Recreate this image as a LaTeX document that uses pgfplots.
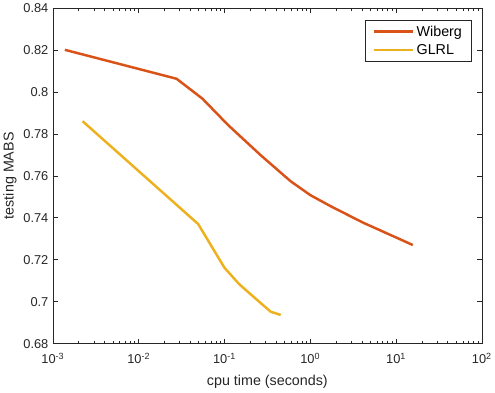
\documentclass[border=0pt]{standalone}
\usepackage{fontspec}
\setmainfont{Liberation Sans}
\usepackage{pgfplots}
\pgfplotsset{compat=1.18}
\definecolor{wib}{HTML}{D95319}
\definecolor{glrl}{HTML}{EDB120}
\definecolor{axc}{HTML}{262626}
\begin{document}
\begin{tikzpicture}
\begin{axis}[
  xmode=log,
  scale only axis,
  width=433bp, height=339bp,
  xmin=1e-3, xmax=1e2,
  ymin=0.68, ymax=0.84,
  ytick={0.68,0.70,...,0.84},
  xtick={0.001,0.01,0.1,1,10,100},
  xticklabels={10\textsuperscript{-3},10\textsuperscript{-2},10\textsuperscript{-1},10\textsuperscript{0},10\textsuperscript{1},10\textsuperscript{2}},
  /pgf/number format/.cd, fixed, precision=2, assume math mode=true,
  /pgfplots/.cd,
  tick align=inside,
  major tick length=5bp,
  minor tick length=3bp,
  axis line style={axc, line width=0.6bp},
  every tick/.style={axc, line width=0.5bp},
  tick label style={font=\fontsize{13}{15}\selectfont, text=axc},
  xticklabel style={yshift=-6bp},
  yticklabel style={xshift=-1bp},
  label style={font=\fontsize{14.5}{17}\selectfont, text=axc},
  xlabel style={yshift=-5bp},
  xlabel={cpu time (seconds)},
  ylabel={testing MABS},
  legend style={at={(0.975,0.965)}, anchor=north east, draw=axc, line width=0.5bp,
    font=\fontsize{14.5}{17}\selectfont, inner xsep=7bp, inner ysep=4bp, row sep=2.5bp},
  legend cell align=left,
  legend image code/.code={\draw[#1] (0bp,0bp) -- (40bp,0bp);},
]
\addplot[wib, line width=2.5bp] coordinates {
(0.00138,0.8200)
(0.0277,0.8062)
(0.0555,0.7967)
(0.110,0.7842)
(0.266,0.7697)
(0.59,0.7574)
(1.0,0.7508)
(1.71,0.7456)
(4.11,0.7377)
(15.7,0.7270)
};
\addlegendentry{Wiberg}
\addplot[glrl, line width=2.5bp] coordinates {
(0.00222,0.7860)
(0.0494,0.7370)
(0.100,0.7162)
(0.149,0.7083)
(0.241,0.7008)
(0.347,0.6952)
(0.453,0.6937)
};
\addlegendentry{GLRL}
\end{axis}
\end{tikzpicture}
\end{document}
